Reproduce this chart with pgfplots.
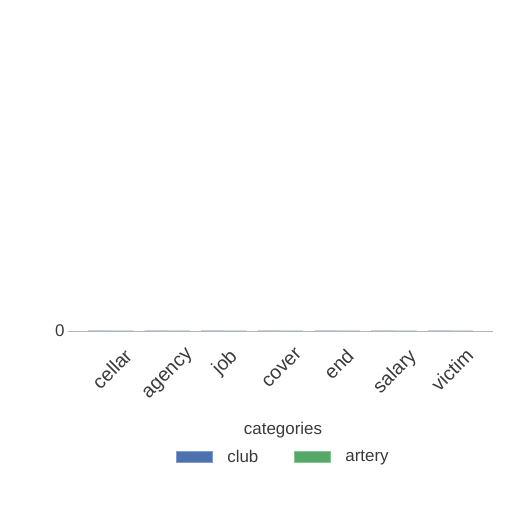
\documentclass[border=0pt]{standalone}
\usepackage{pgfplots}
\pgfplotsset{compat=1.18}
\usepackage{fontspec}
\setmainfont{Liberation Sans}
\definecolor{sbblue}{HTML}{4C72B0}
\definecolor{sbgreen}{HTML}{55A868}
\definecolor{txt}{HTML}{3A3A3A}
\definecolor{axgray}{HTML}{B4B4B4}
\begin{document}
\begin{tikzpicture}[x=1bp,y=1bp,font=\fontsize{17}{20}\selectfont]
\path (0,0) rectangle (512,512);
\begin{axis}[
  at={(68bp,181bp)}, anchor=south west,
  scale only axis, width=425bp, height=0.5bp,
  xmin=-0.75, xmax=6.75, ymin=0, ymax=1,
  clip=false,
  axis x line*=bottom, axis y line*=left,
  x axis line style={axgray,-, line width=0.8bp},
  y axis line style={draw=none},
  axis on top=false,
  major tick length=0pt,
  ytick={0},
  /pgf/number format/assume math mode=true,
  yticklabel style={color=txt},
  xtick={0,...,6},
  xticklabels={\rotatebox{45}{cellar},\rotatebox{45}{agency},\rotatebox{45}{job},\rotatebox{45}{cover},\rotatebox{45}{end},\rotatebox{45}{salary},\rotatebox{45}{victim}},
  xticklabel style={anchor=north, yshift=-13bp, xshift=1.5bp, color=txt, font=\fontsize{19.5}{22}\selectfont},
  ybar, bar width=0.4,
  legend columns=2,
  legend style={at={(axis description cs:0.5,0)}, anchor=center, xshift=3bp, yshift=-126bp,
    draw=none, fill=none, text=txt,
    /tikz/every odd column/.append style={column sep=12bp},
    /tikz/every even column/.append style={column sep=34bp}},
  legend image code/.code={\fill[#1] (0bp,-5.5bp) rectangle (36bp,5.5bp);},
]
\addplot[bar shift=-0.2, fill=sbblue, draw=sbblue!70!white, line width=1bp] coordinates {(0,0)(1,0)(2,0)(3,0)(4,0)(5,0)(6,0)};
\addlegendentry{club}
\addplot[bar shift=0.2, fill=sbgreen, draw=sbgreen!70!white, line width=1bp] coordinates {(0,0)(1,0)(2,0)(3,0)(4,0)(5,0)(6,0)};
\addlegendentry{artery}
\end{axis}
\node[anchor=base, text=txt] at (283,77) {categories};
\end{tikzpicture}
\end{document}
